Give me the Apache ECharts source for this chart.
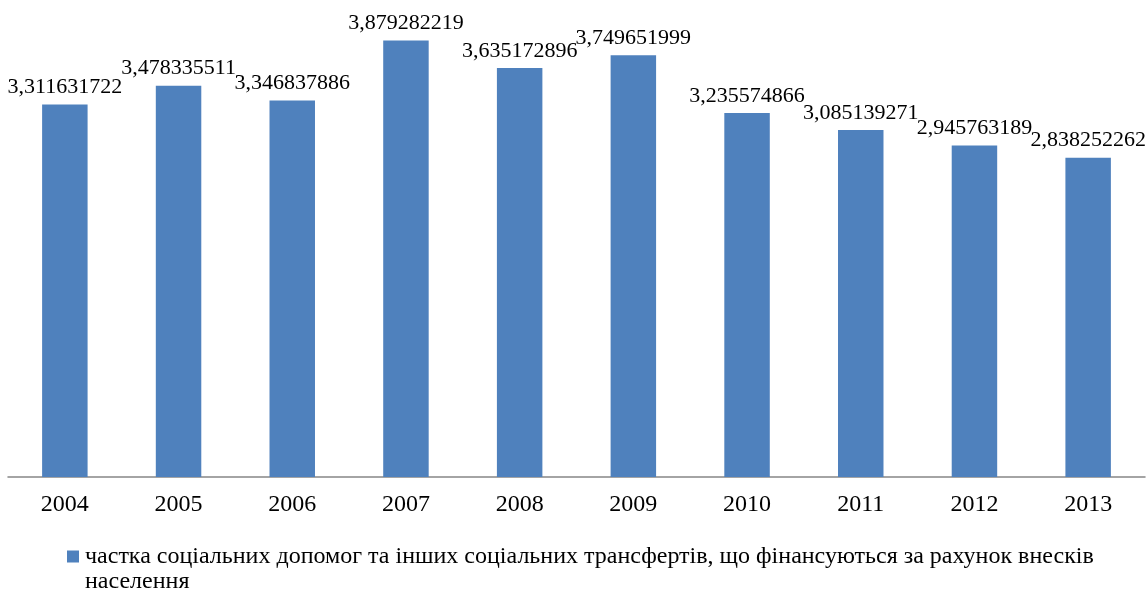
<!DOCTYPE html>
<html><head><meta charset="utf-8">
<script src="https://cdn.jsdelivr.net/npm/echarts@6/dist/echarts.min.js"></script>
<style>html,body{margin:0;padding:0;background:#fff}#c{width:1148px;height:592px}</style>
</head><body><div id="c"></div>
<script>
const categories = ['2004','2005','2006','2007','2008','2009','2010','2011','2012','2013'];
const values = [3.311631722, 3.478335511, 3.346837886, 3.879282219, 3.635172896, 3.749651999, 3.235574866, 3.085139271, 2.945763189, 2.838252262];
const seriesName = 'частка соціальних допомог та інших соціальних трансфертів, що фінансуються за рахунок внесків населення';
const legendBreakWord = 'населення';

const chart = echarts.init(document.getElementById('c'));
chart.setOption({
  animation: false,
  grid: { left: 8, right: 3, top: 27, bottom: 115, containLabel: false },
  xAxis: {
    type: 'category', data: categories,
    axisLine: { lineStyle: { color: '#868686', width: 1.5 } },
    axisTick: { show: false },
    axisLabel: { color: '#000', fontFamily: 'Liberation Serif', fontSize: 24, margin: 16 }
  },
  yAxis: { type: 'value', min: 0, max: 4, show: false, splitLine: { show: false } },
  legend: {
    left: 62, top: 544, padding: 0,
    icon: 'none', itemWidth: 0, itemGap: 0,
    formatter: name => {
      const i = name.lastIndexOf(' ' + legendBreakWord);
      return '{sq|}{t|' + name.slice(0, i) + '}\n{sp|}{t|' + name.slice(i + 1) + '}';
    },
    textStyle: {
      fontFamily: 'Liberation Serif', fontSize: 24, color: '#000', lineHeight: 25,
      rich: {
        sq: { width: 12, height: 12, backgroundColor: '#4F81BD', verticalAlign: 'middle' },
        sp: { width: 12 },
        t: { fontFamily: 'Liberation Serif', fontSize: 24, color: '#000', lineHeight: 25, padding: [0, 0, 0, 6] }
      }
    },
    data: [seriesName]
  },
  series: [{
    name: seriesName, type: 'bar', data: values, barWidth: '40%',
    itemStyle: { color: '#4F81BD' },
    label: {
      show: true, position: 'top', distance: 6,
      fontFamily: 'Liberation Serif', fontSize: 22, color: '#000',
      formatter: p => String(p.value).replace('.', ',')
    }
  }]
});
</script></body></html>
